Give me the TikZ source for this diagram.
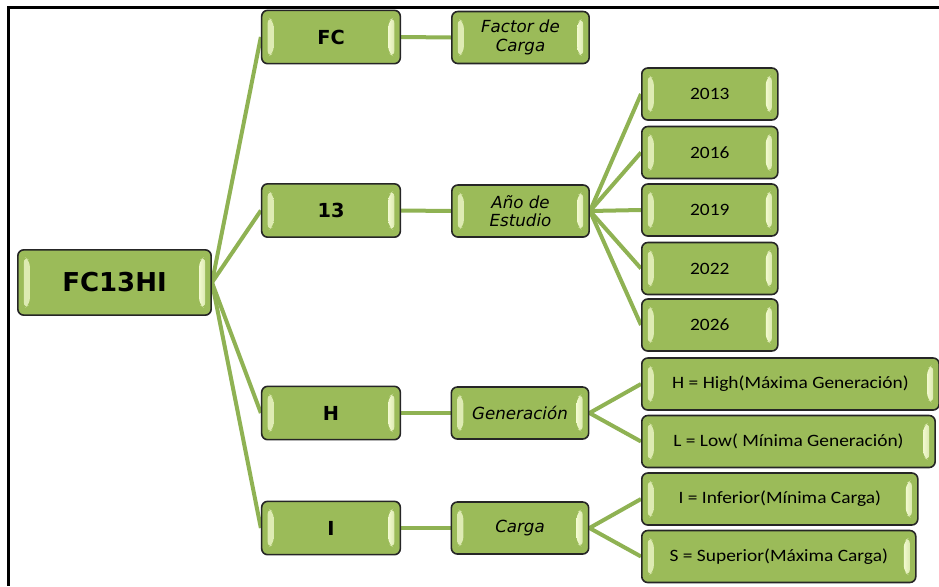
\documentclass[tikz,border=0pt]{standalone}
\usepackage{fontspec}
\setmainfont{DejaVu Sans}
\newfontfamily\calfont[FakeStretch=1.12]{Carlito}
\usetikzlibrary{backgrounds}

\definecolor{boxgreen}{HTML}{9BBB59}
\definecolor{linkgreen}{HTML}{8FB253}
\definecolor{glow}{HTML}{F2F9CF}
\definecolor{rim}{HTML}{262626}

\tikzset{
  bevel/.style={path picture={
    \shade[left color=glow!75!boxgreen, right color=glow]
      ([xshift=4.5pt,yshift=-5pt]path picture bounding box.north west)
      -- ([xshift=4.5pt,yshift=5pt]path picture bounding box.south west)
      -- ([xshift=9pt,yshift=8pt]path picture bounding box.south west)
      -- ([xshift=9pt,yshift=-8pt]path picture bounding box.north west) -- cycle;
    \shade[left color=glow, right color=glow!75!boxgreen]
      ([xshift=-4.5pt,yshift=-5pt]path picture bounding box.north east)
      -- ([xshift=-4.5pt,yshift=5pt]path picture bounding box.south east)
      -- ([xshift=-9pt,yshift=8pt]path picture bounding box.south east)
      -- ([xshift=-9pt,yshift=-8pt]path picture bounding box.north east) -- cycle;
  }},
  box/.style={draw=rim, line width=1.2pt, fill=boxgreen, rounded corners=4.5pt,
    inner sep=0pt, align=center, bevel},
  rootbox/.style={box, minimum width=145pt, minimum height=49pt,
    font=\fontsize{19.5}{22}\selectfont\bfseries},
  codebox/.style={box, minimum width=104pt, minimum height=40pt,
    font=\fontsize{14.5}{17}\selectfont\bfseries},
  namebox/.style={box, minimum width=103pt, minimum height=39pt,
    font=\fontsize{12.5}{14}\selectfont\itshape},
  valbox/.style={box, anchor=west, minimum height=39pt,
    font=\calfont\fontsize{13}{15}\selectfont},
  link/.style={draw=linkgreen, line width=3pt},
}

\begin{document}
\begin{tikzpicture}[x=0.75pt,y=-0.75pt]
		\useasboundingbox (0,0) rectangle (939,586);
		\draw[line width=2pt] (939,7.5) -- (8.5,7.5) -- (8.5,586);

		\node (root) at (114.5,282.5) [rootbox] {FC13HI};

		\node (fc) at (331,37) [codebox] {FC};
		\node (trece) at (331,210.5) [codebox] {13};
		\node (hh) at (331,413) [codebox] {H};
		\node (ii) at (331,528) [codebox] {I};

		\node (factor) at (520.5,37.5) [namebox] {Factor de\\Carga};
		\node (anio) at (520.5,211) [namebox] {Año de\\Estudio};
		\node (gen) at (520,413) [namebox] {Generación};
		\node (carga) at (520,528) [namebox] {Carga};

		\node (y13) at (641,94) [valbox, minimum width=102pt] {2013};
		\node (y16) at (641,152.5) [valbox, minimum width=102pt] {2016};
		\node (y19) at (641,210) [valbox, minimum width=102pt] {2019};
		\node (y22) at (641,268.5) [valbox, minimum width=102pt] {2022};
		\node (y26) at (641,325) [valbox, minimum width=102pt] {2026};

		\node (high) at (641,384) [valbox, minimum width=223pt] {H = High(Máxima Generación)};
		\node (low) at (641,441.5) [valbox, minimum width=220pt] {L = Low( Mínima Generación)};
		\node (inf) at (641,499) [valbox, minimum width=207pt] {I = Inferior(Mínima Carga)};
		\node (sup) at (641,556.5) [valbox, minimum width=205.5pt] {S = Superior(Máxima Carga)};

		% ramas
		\begin{scope}[on background layer]
		\draw[link] (root.east) -- (fc.west);
		\draw[link] (root.east) -- (trece.west);
		\draw[link] (root.east) -- (hh.west);
		\draw[link] (root.east) -- (ii.west);

		\draw[link] (fc.east) -- (factor.west);
		\draw[link] (trece.east) -- (anio.west);
		\draw[link] (hh.east) -- (gen.west);
		\draw[link] (ii.east) -- (carga.west);

		\draw[link] (anio.east) -- (y13.west);
		\draw[link] (anio.east) -- (y16.west);
		\draw[link] (anio.east) -- (y19.west);
		\draw[link] (anio.east) -- (y22.west);
		\draw[link] (anio.east) -- (y26.west);

		\draw[link] (gen.east) -- (high.west);
		\draw[link] (gen.east) -- (low.west);
		\draw[link] (carga.east) -- (inf.west);
		\draw[link] (carga.east) -- (sup.west);
		\end{scope}
\end{tikzpicture}
\end{document}
